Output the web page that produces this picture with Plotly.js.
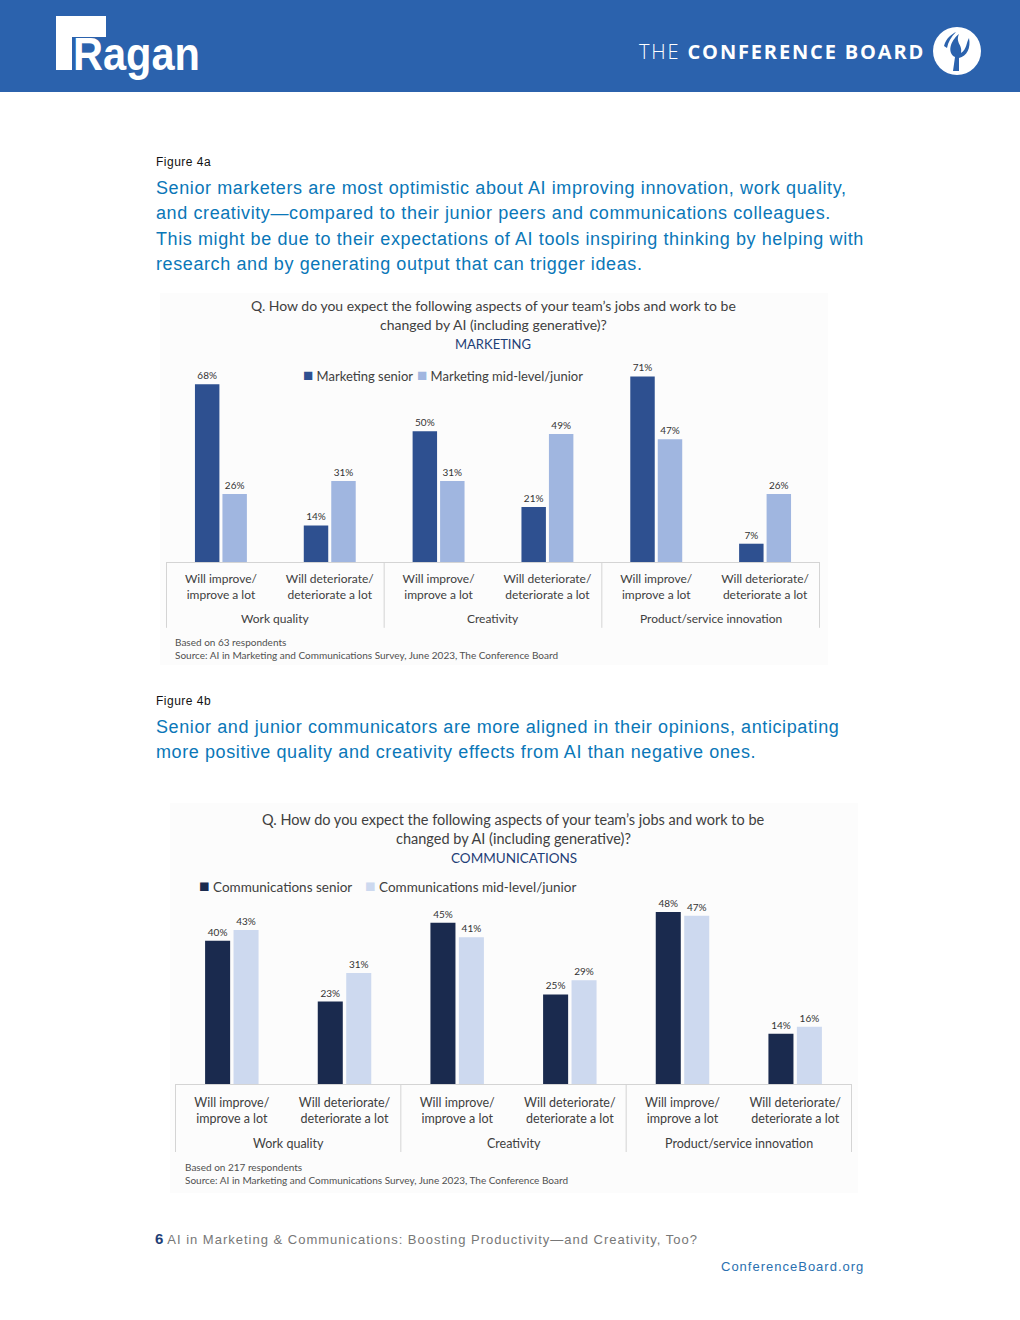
<!DOCTYPE html>
<html>
<head>
<meta charset="utf-8">
<script src="https://cdn.plot.ly/plotly-3.0.1.min.js"></script>
<style>
  html, body { margin:0; padding:0; width:1020px; height:1320px; background:#fff; overflow:hidden; }
  body { position:relative; font-family:"Liberation Sans", Arial, sans-serif; }
  .hdr { position:absolute; left:0; top:0; width:1020px; height:92px; background:#2b62ad; }
  .abs { position:absolute; white-space:nowrap; }
  .fig { font-size:12px; color:#111; letter-spacing:0.5px; }
  .head { font-size:18px; color:#0a77b8; line-height:25.3px; letter-spacing:0.6px; }
</style>
</head>
<body>
<div class="hdr"></div>
<!-- Ragan logo -->
<svg class="abs" style="left:50px;top:10px;" width="170" height="80" viewBox="0 0 170 80">
  <rect x="6" y="6" width="50" height="21" fill="#fff"/>
  <rect x="6" y="6" width="16" height="54" fill="#fff"/>
  <text x="23" y="60" font-family="Liberation Sans, Arial" font-weight="bold" font-size="46" fill="#fff" textLength="127" lengthAdjust="spacingAndGlyphs">Ragan</text>
</svg>
<!-- Conference Board -->
<div class="abs" style="left:639px;top:38px;font-family:'Open Sans',sans-serif;font-size:20px;color:#fff;letter-spacing:1.85px;"><span style="font-weight:300;">THE</span> <b style="font-weight:700;">CONFERENCE BOARD</b></div>
<svg class="abs" style="left:932px;top:26px;" width="52" height="52" viewBox="0 0 52 52">
  <circle cx="25" cy="25" r="24" fill="#fff"/>
  <path d="M21 45 L23 31 C15 27 18 15 27 8 C23 17 31 19 29 27 C35 23 34 17 37 12 C39 22 35 30 27 32 L27 45 Z" fill="#2b62ad"/>
  <path d="M12 20 C14 12 20 8 24 6 C19 11 16 16 15 22 Z" fill="#2b62ad"/>
</svg>

<div class="abs fig" style="left:156px;top:155px;">Figure 4a</div>
<div class="abs head" style="left:156px;top:176px;">Senior marketers are most optimistic about AI improving innovation, work quality,<br>and creativity—compared to their junior peers and communications colleagues.<br>This might be due to their expectations of AI tools inspiring thinking by helping with<br>research and by generating output that can trigger ideas.</div>

<div id="chart1" class="abs" style="left:160px;top:293px;width:668px;height:372px;"></div>

<div class="abs fig" style="left:156px;top:694px;">Figure 4b</div>
<div class="abs head" style="left:156px;top:715px;">Senior and junior communicators are more aligned in their opinions, anticipating<br>more positive quality and creativity effects from AI than negative ones.</div>

<div id="chart2" class="abs" style="left:170px;top:803px;width:688px;height:390px;"></div>

<div class="abs" style="left:155px;top:1230px;font-size:13px;color:#777;letter-spacing:1px;"><b style="color:#1f3f77;font-size:15px;letter-spacing:0;">6</b> AI in Marketing &amp; Communications: Boosting Productivity—and Creativity, Too?</div>
<div class="abs" style="left:721px;top:1259px;font-size:13px;color:#2a70b0;letter-spacing:1px;">ConferenceBoard.org</div>

<script>
// ---- data ----
const groupNames = ["Work quality", "Creativity", "Product/service innovation"];
const groups = ["Work quality", "Work quality", "Creativity", "Creativity", "Product/service innovation", "Product/service innovation"];
const subcats = ["Will improve/<br>improve a lot", "Will deteriorate/<br>deteriorate a lot", "Will improve/<br>improve a lot", "Will deteriorate/<br>deteriorate a lot", "Will improve/<br>improve a lot", "Will deteriorate/<br>deteriorate a lot"];

const mktSeniorName = "Marketing senior";
const mktJuniorName = "Marketing mid-level/junior";
const mktSenior = [68, 14, 50, 21, 71, 7];
const mktJunior = [26, 31, 31, 49, 47, 26];

const comSeniorName = "Communications senior";
const comJuniorName = "Communications mid-level/junior";
const comSenior = [40, 23, 45, 25, 48, 14];
const comJunior = [43, 31, 41, 29, 47, 16];

const questionLines = ["Q. How do you expect the following aspects of your team’s jobs and work to be", "changed by AI (including generative)?"];
const note1 = "Based on 63 respondents<br>Source: AI in Marketing and Communications Survey, June 2023, The Conference Board";
const note2 = "Based on 217 respondents<br>Source: AI in Marketing and Communications Survey, June 2023, The Conference Board";

const FONT = "Lato, 'Open Sans', sans-serif";
const keys = groups.map((g, i) => g + " | " + i);

function bar(name, vals, color) {
  return {
    type: "bar", name: name,
    x: keys, y: vals,
    marker: {color: color},
    texttemplate: "%{y}%", textposition: "outside",
    textfont: {size: 10, color: "#333", family: FONT},
    cliponaxis: false, hoverinfo: "skip"
  };
}

// cfg: pixel geometry in the chart div (axisY = y of x axis, H = plot height)
function makeLayout(cfg) {
  const py = Y => (cfg.axisY - Y) / cfg.H;          // div pixel y -> paper y
  const px = X => (X - cfg.l) / cfg.W;              // div pixel x -> paper x
  const ann = [];
  const t = (text, x, y, size, color, xanchor) => ann.push({
    text: text, xref: "paper", yref: "paper", x: x, y: y, xanchor: xanchor || "center", yanchor: "middle",
    showarrow: false, font: {size: size, color: color, family: FONT}
  });
  t(questionLines[0], 0.5, py(cfg.titleY[0]), cfg.titleSize, "#404040");
  t(questionLines[1], 0.5, py(cfg.titleY[1]), cfg.titleSize, "#404040");
  t(cfg.subtitle, 0.5, py(cfg.titleY[2]), cfg.subSize, "#1f3f77");
  cfg.legend.forEach(L => t("<span style='color:" + L.color + ";font-size:" + (cfg.legendSize + 4) + "px'>■</span> " + L.name, px(L.x), py(cfg.legendY), cfg.legendSize, "#404040", "left"));
  groupNames.forEach((g, i) => ann.push({
    text: g, xref: "x", yref: "paper", x: 2 * i + 0.5, y: py(cfg.groupY), xanchor: "center", yanchor: "middle",
    showarrow: false, font: {size: cfg.tickSize, color: "#404040", family: FONT}
  }));
  ann.push({
    text: cfg.note, xref: "paper", yref: "paper", x: px(cfg.noteX), y: py(cfg.noteY), xanchor: "left", yanchor: "top",
    showarrow: false, align: "left", font: {size: 10, color: "#505050", family: FONT}
  });
  const shapes = [-0.5, 1.5, 3.5, 5.5].map(x => ({
    type: "line", xref: "x", yref: "paper", x0: x, x1: x, y0: 0, y1: py(cfg.divEnd),
    line: {color: "#d4d4d4", width: 1}
  }));
  return {
    width: cfg.w, height: cfg.h,
    paper_bgcolor: "#fcfcfc", plot_bgcolor: "#fcfcfc",
    margin: {l: cfg.l, r: cfg.r, t: cfg.t, b: cfg.b, pad: 0},
    font: {family: FONT, color: "#404040"},
    barmode: "group", bargap: cfg.bargap, bargroupgap: cfg.bargroupgap,
    showlegend: false,
    xaxis: {
      type: "category", showline: true, linecolor: "#d4d4d4", linewidth: 1,
      tickvals: keys, ticktext: subcats, ticks: "", ticklabelstandoff: cfg.standoff,
      tickfont: {size: cfg.tickSize, color: "#404040", family: FONT},
      showgrid: false, fixedrange: true, automargin: false
    },
    yaxis: {range: [0, cfg.yMax], visible: false, showgrid: false, zeroline: false, fixedrange: true},
    annotations: ann, shapes: shapes
  };
}

Plotly.newPlot("chart1", [
  bar(mktSeniorName, mktSenior, "#2e5090"),
  bar(mktJuniorName, mktJunior, "#a0b6e0")
], makeLayout({
  w: 668, h: 372, l: 6, r: 8, t: 72.5, b: 103, W: 654, H: 196.5, axisY: 269, yMax: 75,
  bargap: 0.495, bargroupgap: 0.11,
  titleY: [12, 31, 50], titleSize: 14, subSize: 13, subtitle: "MARKETING",
  legendY: 81, legendSize: 13,
  legend: [{x: 141, name: mktSeniorName, color: "#2e5090"}, {x: 255, name: mktJuniorName, color: "#a0b6e0"}],
  tickSize: 12, standoff: 6, groupY: 326, divEnd: 335, noteX: 13, noteY: 341, note: note1
}), {staticPlot: true});

Plotly.newPlot("chart2", [
  bar(comSeniorName, comSenior, "#1a2a4e"),
  bar(comJuniorName, comJunior, "#cdd9ef")
], makeLayout({
  w: 688, h: 390, l: 5, r: 6, t: 84, b: 109, W: 677, H: 197, axisY: 281, yMax: 55,
  bargap: 0.495, bargroupgap: 0.12,
  titleY: [16, 35, 55], titleSize: 14.5, subSize: 13.5, subtitle: "COMMUNICATIONS",
  legendY: 82, legendSize: 13.5,
  legend: [{x: 27, name: comSeniorName, color: "#1a2a4e"}, {x: 193, name: comJuniorName, color: "#cdd9ef"}],
  tickSize: 12.5, standoff: 7, groupY: 340, divEnd: 349, noteX: 13, noteY: 356, note: note2
}), {staticPlot: true});
</script>
</body>
</html>
